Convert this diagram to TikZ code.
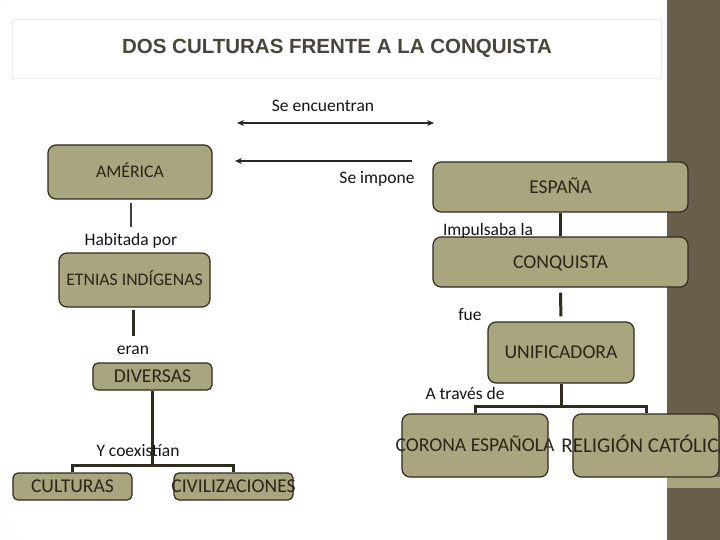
\documentclass[tikz,border=0pt]{standalone}
\usepackage{fontspec}
\setmainfont{Carlito}
\newfontfamily\titulofont{Liberation Sans}
\usepackage{xcolor}
\usetikzlibrary{positioning,arrows.meta}

\definecolor{caqui}{HTML}{A9A57F}
\definecolor{borde}{HTML}{2F2B1F}
\definecolor{franja}{HTML}{675F49}
\definecolor{tinta}{HTML}{2A2618}
\definecolor{gristitulo}{HTML}{48453A}
\pgfdeclareradialshading{fondo}{\pgfpoint{0bp}{0bp}}{color(0bp)=(white); color(22bp)=(white); color(52bp)=(black!24)}

\tikzset{
	caja/.style={draw=borde, fill=caqui, line width=1.2pt, rounded corners=8pt, text=tinta,
		font=\fontsize{19.6}{22}\selectfont, inner sep=0pt, text height=12.6pt, text depth=0pt},
	cajita/.style={caja, rounded corners=5pt},
	etiqueta/.style={font=\fontsize{17.5}{20}\selectfont, text=black!92, text height=12pt, text depth=4pt, inner sep=3pt},
	rama/.style={draw=borde, line width=3pt},
	delgada/.style={draw=black!75, line width=1.2pt},
	flecha/.style={draw=black!85, line width=2pt},
}

\begin{document}
\begin{tikzpicture}[x=1pt, y=-1pt, >={Stealth[length=7pt,width=6pt]}]
	\useasboundingbox (0,0) rectangle (720,540);
	% fondo y franja
	\begin{scope}
		\clip (0,0) rectangle (667,540);
		\shade[shading=fondo] (-160,-240) rectangle (1040,760);
	\end{scope}
	\fill[franja] (667,0) rectangle (720,540);
	\fill[caqui] (667,477) rectangle (720,488);
	\draw[black!8, line width=1pt] (12,20) rectangle (661,79);
	\node[font=\titulofont\bfseries\fontsize{20.5}{24}\selectfont, text=gristitulo] (titulo) at (337,48) {DOS CULTURAS FRENTE A LA CONQUISTA};

	% lado izquierdo
	\node[caja, minimum width=164pt, minimum height=54pt, font=\fontsize{17.7}{20}\selectfont, text height=11.4pt] (america) at (130,172) {AMÉRICA};
	\node[caja, minimum width=151pt, minimum height=54pt, font=\fontsize{17.7}{20}\selectfont, text height=11.4pt] (etnias) at (134.5,280) {ETNIAS INDÍGENAS};
	\node[cajita, minimum width=119pt, minimum height=27pt] (diversas) at (152.5,376.5) {DIVERSAS};
	\node[cajita, minimum width=119pt, minimum height=27pt] (culturas) at (72.5,486.5) {CULTURAS};
	\node[cajita, minimum width=119pt, minimum height=27pt] (civil) at (233.5,486.5) {\makebox[0pt]{CIVILIZACIONES}};

	% lado derecho
	\node[caja, minimum width=255pt, minimum height=50pt] (espana) at (560.5,187) {ESPAÑA};
	\node[caja, minimum width=255pt, minimum height=50pt] (conquista) at (560.5,262) {CONQUISTA};
	\node[caja, minimum width=146pt, minimum height=61pt] (unifica) at (561,352.5) {UNIFICADORA};
	\node[caja, minimum width=146pt, minimum height=63pt] (corona) at (475,445.5) {\makebox[0pt]{CORONA ESPAÑOLA}};
	\node[caja, minimum width=146pt, minimum height=63pt, font=\fontsize{21}{24}\selectfont, text height=13.5pt] (religion) at (646,445.5) {\makebox[0pt]{RELIGIÓN CATÓLICA}};

	% etiquetas
	\node[etiqueta] (encuentran) at (323,107.5) {Se encuentran};
	\node[etiqueta] (impone) at (377,179.5) {Se impone};
	\node[etiqueta] (habitada) at (131,241.5) {Habitada por};
	\node[etiqueta] (eran) at (133,350.5) {eran};
	\node[etiqueta] (impulsa) at (488,231.5) {Impulsaba la};
	\node[etiqueta] (fue) at (470,316.5) {fue};
	\node[etiqueta] (traves) at (465,395.5) {A través de};

	% flechas
	\coordinate (encA) at (237,123);
	\coordinate (encB) at (434,123);
	\draw[flecha, <->] (encA) -- (encB);
	\coordinate (impA) at (235,161);
	\coordinate (impB) at (412,161);
	\draw[flecha, <-] (impA) -- (impB);

	% conectores
	\draw[delgada, shorten <=3pt, shorten >=3pt] (america.south -| habitada.north) -- (habitada.north);
	\draw[rama, shorten <=2pt, shorten >=3pt] (etnias.south -| eran.north) -- (eran.north);
	\path (diversas.south) ++(0,75) coordinate (nudoA);
	\draw[rama] (diversas.south) -- (nudoA);
	\draw[rama] (culturas.north) |- (nudoA) -| (civil.north);

	\draw[rama] (espana) -- (conquista);
	\draw[rama, shorten <=5pt, shorten >=5pt] (conquista) -- (unifica);
	\path (unifica.south) ++(0,23) coordinate (nudoB);
	\draw[rama] (unifica.south) -- (nudoB);
	\draw[rama] (corona.north) |- (nudoB) -| (religion.north);

	\node[etiqueta] (coexistian) at (138,452.5) {Y coexistían};
\end{tikzpicture}
\end{document}
